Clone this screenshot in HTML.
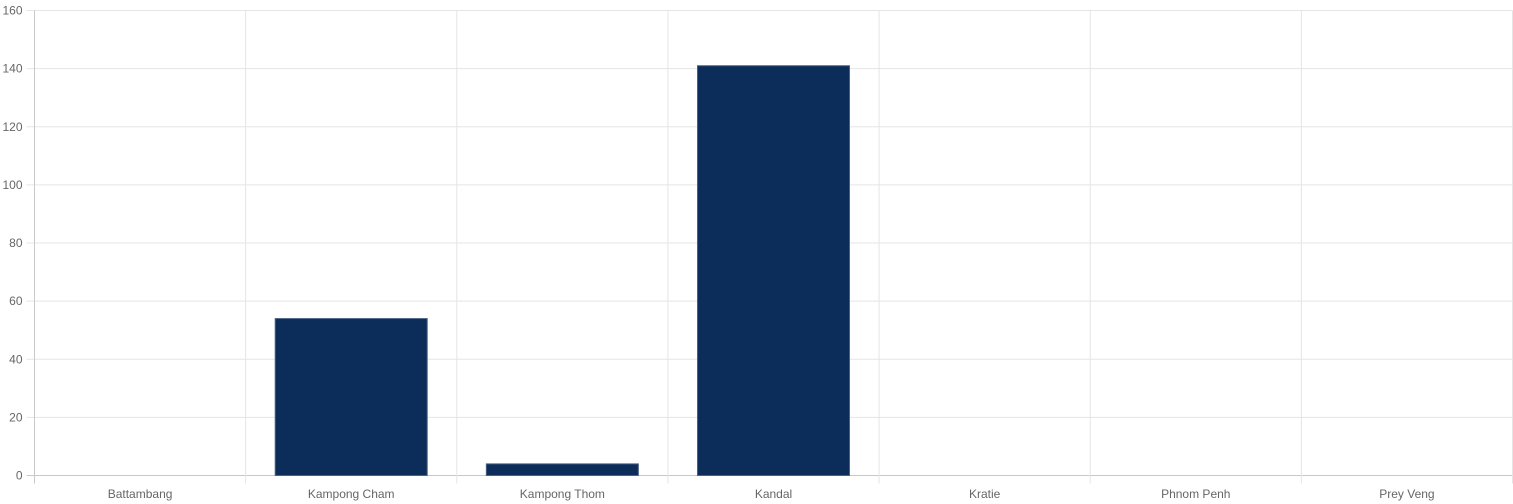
<!DOCTYPE html>
<html><head><meta charset="utf-8"><style>
html,body{margin:0;padding:0;background:#fff;}
svg{display:block;font-family:"Liberation Sans",sans-serif;}
</style></head><body>
<svg id="chart" width="1513" height="504" viewBox="0 0 1513 504"></svg>
<script>
const categories=["Battambang","Kampong Cham","Kampong Thom","Kandal","Kratie","Phnom Penh","Prey Veng"];
const values=[0,54,4,141,0,0,0];
const yTicks=[0,20,40,60,80,100,120,140,160];
const svg=document.getElementById('chart');
const NS='http://www.w3.org/2000/svg';
const L=34.5,R=1512.5,T=10.5,B=475.5,yMax=160;
const y=v=>B-(v/yMax)*(B-T);
const bw=(R-L)/categories.length;
const x=i=>L+i*bw;
function mk(tag,attrs){const e=document.createElementNS(NS,tag);for(const k in attrs)e.setAttribute(k,attrs[k]);svg.appendChild(e);return e;}
yTicks.forEach(t=>{
  const g=mk('line',{x1:L-8,x2:R,y1:y(t),y2:y(t),stroke:t===0?'#c8c8c8':'#e5e5e5','stroke-width':1});
  
  
  const tx=mk('text',{x:L-12,y:y(t)+4,'text-anchor':'end','font-size':12,fill:'#666'});
  tx.textContent=t;
  
  
});
for(let i=0;i<=categories.length;i++){
  const g=mk('line',{x1:x(i),x2:x(i),y1:T,y2:B+8,stroke:i===0?'#c8c8c8':'#e5e5e5','stroke-width':1});
  
  
}
categories.forEach((c,i)=>{
  const tx=mk('text',{x:x(i)+bw/2,y:498,'text-anchor':'middle','font-size':12,fill:'#666'});
  tx.textContent=c;
  
  
  if(values[i]>0){
    const w=bw*0.72;
    const r=mk('rect',{x:x(i)+(bw-w)/2,y:y(values[i]),width:w,height:B-y(values[i]),fill:'#0c2d5a',stroke:'#4a6284','stroke-width':1});
    
    
  }
});
</script>
</body></html>
